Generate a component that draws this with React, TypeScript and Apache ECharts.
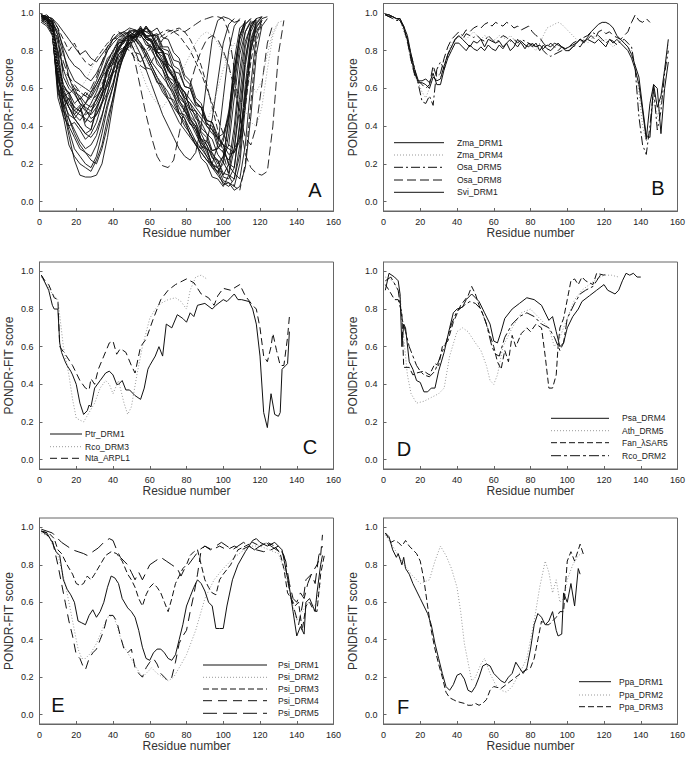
import React, { useEffect, useRef } from "react";
import * as echarts from "echarts";

const FONT = '"Liberation Sans", Arial, Helvetica, sans-serif';
const INK = "#111";
const GRAY = "#999";

const X_TICKS = [0, 20, 40, 60, 80, 100, 120, 140, 160];
const Y_TICKS = [0, 0.2, 0.4, 0.6, 0.8, 1.0];
const PANEL_LETTERS = ["A", "B", "C", "D", "E", "F"];
const X_TITLE = "Residue number";
const Y_TITLE = "PONDR-FIT score";

// ---------- Panel A (percent values, one every 3 residues from residue 1) ----------
const A01 = [98,97,95,70,55,58,48,51,42,47,55,60,72,76,84,85,89,87,91,86,85,77,74,66,64,55,52,44,40,33,28,26,20,24,30,55,78,90,95,96];
const A02 = [96,98,94,62,50,55,46,50,40,38,50,56,70,73,82,84,90,88,93,87,86,79,79,70,66,63,55,52,44,42,36,33,25,21,15,35,65,85,93,97,98];
const A03 = [99,96,92,80,60,58,52,55,49,44,46,53,62,68,78,80,86,85,90,92,88,88,81,80,72,70,61,60,52,50,41,40,31,28,20,18,40,72,90,96];
const A04 = [95,97,90,55,45,40,42,38,33,36,42,52,64,74,81,86,88,90,88,85,80,75,70,64,58,52,48,44,38,32,26,20,15,22,45,75,92,95];
const A05 = [97,95,96,88,66,60,57,52,50,48,52,58,61,70,73,82,84,89,88,93,89,87,79,78,69,68,61,60,51,50,43,42,35,30,19,15,12,30,62,88,96];
const A06 = [98,96,90,58,48,44,38,32,28,30,35,45,58,70,80,85,88,86,82,76,70,64,58,54,50,46,42,36,30,26,22,20,30,55,80,93,97];
const A07 = [96,98,95,72,62,57,60,54,58,55,60,66,70,78,80,87,86,91,89,93,88,89,82,82,75,74,65,62,53,50,40,38,29,26,22,28,50,76,92,97];
const A08 = [99,97,93,66,52,46,44,40,36,34,38,46,56,63,74,77,84,85,90,86,86,79,77,69,66,57,53,45,42,33,30,23,22,15,14,12,25,55,82,94,98];
const A09 = [97,98,94,84,70,62,58,56,52,50,54,60,68,76,82,86,88,87,84,80,74,70,66,62,56,50,44,38,32,28,24,20,18,24,42,70,88,95];
const A10 = [95,93,88,60,55,50,46,43,47,52,58,66,74,80,85,88,90,91,90,88,85,80,75,70,65,60,55,52,48,44,40,36,34,36,45,62,82,94,97];
const A11 = [98,99,96,76,58,50,44,40,36,38,48,57,70,75,84,85,91,90,92,86,85,77,74,65,62,53,50,41,38,29,28,19,18,11,10,8,20,50,80,93,96];
const A12 = [96,97,92,70,60,52,48,46,44,42,46,52,58,68,71,80,82,88,87,92,90,92,87,86,79,76,67,64,55,52,43,42,33,30,25,26,32,55,80,92,97,98];
const A13 = [99,98,97,92,80,66,58,52,48,46,50,56,64,69,78,81,88,87,91,87,88,81,80,73,70,61,58,49,48,39,36,27,28,34,48,70,88,96];
const A14 = [97,95,90,64,58,54,50,48,52,56,62,68,74,80,84,87,88,86,83,78,72,66,60,54,48,42,38,34,30,28,32,44,64,84,94,97];
const A15 = [98,96,90,70,50,35,22,14,13,13,14,20,34,52,68,80,86,89,91,90,88,84,78,72,66,60,54,48,42,36,30,24,18,14,20,40,70,90,96];
const A16 = [97,95,88,62,45,30,24,20,18,16,22,30,44,55,70,77,86,87,92,88,88,82,80,73,70,61,58,49,46,37,34,25,22,13,12,18,42,75,92,97];
const A17 = [99,97,92,68,52,40,34,28,26,22,20,28,40,55,68,78,84,88,90,88,84,78,72,66,60,54,48,42,36,30,24,18,14,10,8,12,30,62,86,95];
const A18 = [96,94,89,60,48,38,28,24,20,18,24,36,50,61,76,81,88,87,89,83,82,73,70,61,58,47,44,35,32,23,20,13,12,8,14,28,56,82,94,97];
const A19 = [98,96,93,78,56,44,36,30,26,24,30,40,52,61,74,79,87,87,92,90,90,83,80,71,68,57,52,43,40,31,28,19,16,9,10,6,8,18,45,78,93,97];
const A20 = [99,98,97,94,90,86,82,78,80,76,74,78,82,86,88,90,92,91,88,85,82,78,74,70,66,62,58,54,50,46,42,38,34,30,28,26,34,58,84,95,98];
const A21 = [98,97,96,92,86,80,84,78,74,72,76,80,84,86,87,88,89,86,82,80,84,88,90,91,90,88,84,80,74,68,60,52,44,36,30,28,34,50,74,90,96];
const A22 = [97,96,95,90,82,76,72,70,66,64,68,74,80,84,87,89,90,88,84,78,72,66,62,58,52,46,40,36,30,26,22,18,16,20,36,64,88,96];
const A23 = [99,98,95,88,78,70,64,62,60,58,62,68,76,79,86,85,86,79,78,71,70,63,62,55,54,47,46,41,40,33,32,27,28,32,46,68,86,94,97];
const A24 = [98,96,93,80,70,66,62,58,56,54,56,60,66,72,78,82,84,80,72,70,74,80,86,88,90,91,90,92,94,96,97,98,98,97,90,70,45,25,18,15,14,16,40,78,96];
const A25 = [97,95,90,75,66,62,58,60,64,70,76,80,84,86,88,87,84,78,70,62,56,52,50,54,60,66,72,78,84,88,90,88,84,78,70,62,54,48,42,40,50,70,88,95,96];
const A26 = [99,97,94,86,74,66,60,58,56,60,66,74,82,88,90,88,84,74,60,46,34,24,19,18,22,36,50,62,72,80,86,88,86,80,72,60,46,34,30,40,62,84,94];
const A27 = [96,94,90,74,62,56,50,48,46,48,54,62,70,76,80,82,80,76,74,78,82,86,88,90,91,92,90,86,80,72,62,50,38,26,14,8,6,20,52,84,95];
const A28 = [97,98,92,66,56,50,44,48,52,58,64,72,80,86,89,90,88,84,78,70,62,54,46,40,34,28,24,22,26,40,64,86,96,98,97,95,96];
const A29 = [96,94,88,70,60,56,52,50,48,50,56,64,72,80,86,88,86,82,78,74,70,66,62,58,54,50,46,42,40,38,42,50,60,70,78,84,80,72,62,58,64,78,90,95];

// ---------- Panel B (percent values, one every 2 residues from residue 1) ----------
const ZMA_DRM1 = [99,99,98,97,97, 92,86,76,68,63, 63,62,60,66,64, 65,72,78,82,86, 88,86,84,82,85, 84,86,82,86,85, 84,85,82,84,86, 84,82,85,83,82, 84,82,83,81,83, 82,84,83,82,81, 82,83,84,86,85, 86,85,84,86,84, 82,86,84,86,84, 82,80,76,70,62, 48,33,52,62,50, 56,70,86];
const ZMA_DRM4 = [99,99,98,97,96, 90,84,74,66,63, 58,55,60,70,68, 66,72,78,84,86, 87,88,86,88,90, 88,86,88,87,85, 86,88,87,86,88, 86,85,84,82,83, 82,80,84,88,92, 93,94,95,94,92, 90,88,86,85,86, 84,86,88,87,85, 86,84,82,84,86, 84,82,80,72,58, 40,32,38,55,45, 52,70,84];
const OSA_DRM5 = [99,98,97,96,96, 93,86,78,70,62, 53,52,56,51,70, 74,70,78,82,86, 88,86,89,88,87, 88,86,85,88,86, 84,86,88,87,85, 86,84,86,85,84, 83,82,83,80,78, 77,78,79,80,81, 82,84,85,86,87, 88,90,89,88,86, 84,86,85,83,85, 86,84,82,70,45, 30,25,40,60,38, 48,68,80];
const OSA_DRM8 = [99,99,98,97,96, 92,85,75,67,64, 62,60,62,72,66, 68,76,82,86,88, 90,88,91,90,92, 93,92,94,95,93, 95,94,93,95,94, 92,93,91,92,93, 90,88,87,84,82, 84,82,80,82,81, 80,82,83,82,85, 86,88,86,90,91, 89,90,88,87,86, 88,90,95,99,96, 95,97,95];
const SVI_DRM1 = [99,98,98,97,97, 93,88,78,70,64, 64,65,63,68,62, 62,70,76,80,84, 84,82,80,83,81, 80,82,80,83,81, 80,83,81,84,80, 82,86,84,81,84, 82,84,80,83,81, 80,82,84,82,80, 80,82,84,86,84, 87,90,92,94,95, 95,94,92,88,86, 84,82,78,72,66, 50,35,34,62,60, 36,60,74];

// ---------- Panel C ([residue, score]) ----------
const PTR_DRM1 = [[1,0.98],[3,0.94],[5,0.9],[7,0.82],[8,0.8],[10,0.8],[11,0.62],[12,0.57],[14,0.52],[15,0.5],[17,0.47],[18,0.45],[20,0.4],[22,0.3],[24,0.24],[26,0.26],[27,0.29],[28,0.28],[30,0.38],[33,0.42],[36,0.46],[38,0.47],[40,0.45],[42,0.4],[43,0.4],[45,0.42],[47,0.37],[49,0.37],[52,0.34],[55,0.32],[57,0.38],[59,0.48],[60,0.5],[63,0.55],[65,0.6],[67,0.55],[69,0.72],[72,0.7],[75,0.77],[78,0.75],[80,0.73],[82,0.78],[84,0.76],[86,0.82],[90,0.83],[94,0.8],[96,0.82],[100,0.85],[102,0.84],[104,0.86],[106,0.88],[108,0.85],[110,0.85],[114,0.84],[116,0.8],[118,0.72],[120,0.55],[122,0.25],[124,0.17],[126,0.35],[128,0.24],[130,0.23],[131,0.25],[132,0.48],[134,0.5],[135,0.51],[136,0.68]];
const RCO_DRM3 = [[1,0.97],[4,0.93],[7,0.88],[10,0.85],[13,0.6],[16,0.45],[18,0.32],[20,0.22],[24,0.2],[27,0.25],[30,0.3],[33,0.38],[36,0.42],[38,0.4],[40,0.35],[43,0.42],[46,0.3],[48,0.24],[50,0.28],[53,0.45],[56,0.6],[60,0.75],[63,0.8],[66,0.83],[70,0.85],[74,0.86],[77,0.84],[80,0.8],[82,0.9],[85,0.97],[88,0.98],[91,0.96]];
const NTA_ARPL1 = [[1,0.98],[3,0.95],[5,0.93],[8,0.86],[10,0.85],[11,0.6],[14,0.56],[18,0.5],[22,0.42],[25,0.38],[27,0.37],[28,0.43],[30,0.4],[32,0.48],[35,0.55],[38,0.62],[40,0.63],[42,0.56],[44,0.59],[47,0.57],[50,0.5],[52,0.46],[55,0.6],[58,0.64],[62,0.75],[66,0.85],[70,0.9],[74,0.93],[78,0.95],[80,0.96],[84,0.94],[88,0.88],[92,0.86],[95,0.82],[97,0.87],[100,0.91],[104,0.9],[109,0.93],[112,0.87],[116,0.82],[118,0.8],[120,0.7],[122,0.55],[124,0.52],[126,0.6],[127,0.67],[129,0.58],[131,0.5],[133,0.5],[135,0.65],[136,0.76]];

// ---------- Panel D ----------
const PSA_DRM4 = [[1,0.9],[3,0.99],[6,0.97],[8,0.95],[9,0.88],[10,0.6],[11,0.72],[12,0.7],[14,0.52],[16,0.48],[18,0.42],[20,0.41],[22,0.36],[24,0.36],[26,0.38],[28,0.38],[30,0.47],[33,0.57],[36,0.7],[38,0.78],[40,0.8],[43,0.81],[45,0.85],[48,0.88],[50,0.86],[52,0.84],[55,0.78],[58,0.72],[60,0.63],[62,0.62],[64,0.68],[66,0.75],[70,0.8],[74,0.83],[78,0.86],[82,0.85],[86,0.82],[88,0.78],[90,0.74],[92,0.76],[94,0.68],[96,0.6],[98,0.62],[100,0.7],[103,0.76],[106,0.8],[108,0.84],[112,0.87],[116,0.9],[120,0.93],[122,0.9],[126,0.88],[128,0.9],[130,0.95],[132,0.99],[134,0.98],[136,0.99],[138,0.97],[140,0.97]];
const ATH_DRM5 = [[1,0.97],[5,0.95],[9,0.88],[11,0.65],[13,0.45],[15,0.35],[18,0.3],[22,0.31],[26,0.33],[30,0.35],[33,0.38],[36,0.55],[40,0.68],[43,0.7],[46,0.68],[50,0.62],[53,0.58],[56,0.5],[58,0.42],[60,0.4],[62,0.45],[65,0.6],[70,0.7],[75,0.78],[80,0.8],[85,0.75],[90,0.7],[93,0.6],[96,0.65],[100,0.75],[104,0.85],[108,0.9],[112,0.93],[116,0.96],[120,0.98],[124,0.98],[128,0.97]];
const FAN_LSAR5 = [[1,0.93],[3,0.9],[6,0.85],[8,0.85],[10,0.78],[11,0.49],[14,0.49],[16,0.45],[18,0.46],[22,0.47],[25,0.45],[28,0.51],[30,0.5],[32,0.6],[35,0.63],[38,0.73],[42,0.82],[46,0.87],[48,0.92],[50,0.88],[52,0.82],[55,0.75],[58,0.66],[60,0.6],[62,0.52],[64,0.48],[66,0.58],[68,0.52],[70,0.66],[72,0.6],[75,0.67],[78,0.7],[80,0.68],[83,0.72],[86,0.7],[88,0.55],[90,0.38],[92,0.38],[94,0.45],[95,0.6],[96,0.7],[98,0.75],[100,0.85],[102,0.95],[104,0.96],[106,0.93],[108,0.97],[110,0.95],[114,0.93],[116,0.99],[120,0.98],[122,0.99]];
const RCO_DRM2 = [[1,0.95],[4,0.97],[8,0.9],[10,0.75],[12,0.68],[14,0.6],[16,0.55],[18,0.5],[20,0.47],[22,0.45],[25,0.44],[28,0.47],[31,0.55],[34,0.62],[37,0.72],[40,0.79],[44,0.82],[47,0.84],[50,0.83],[53,0.8],[56,0.72],[59,0.6],[61,0.56],[63,0.55],[66,0.65],[70,0.72],[74,0.76],[78,0.78],[82,0.76],[86,0.72],[90,0.7],[93,0.65],[96,0.58],[98,0.62],[100,0.75],[104,0.83],[107,0.88],[110,0.9],[114,0.92],[116,0.95],[118,0.98]];

// ---------- Panel E ----------
const PSI_DRM1 = [[1,0.98],[4,0.97],[7,0.92],[9,0.87],[11,0.85],[13,0.72],[15,0.67],[17,0.64],[19,0.6],[21,0.5],[23,0.49],[25,0.48],[27,0.53],[29,0.56],[31,0.52],[33,0.55],[35,0.6],[37,0.68],[39,0.74],[41,0.73],[43,0.7],[45,0.62],[48,0.57],[50,0.55],[52,0.52],[54,0.45],[56,0.36],[58,0.3],[60,0.29],[62,0.33],[64,0.35],[66,0.35],[68,0.33],[70,0.3],[72,0.29],[74,0.32],[76,0.4],[78,0.48],[80,0.58],[82,0.63],[84,0.68],[86,0.72],[88,0.7],[90,0.66],[92,0.6],[94,0.58],[96,0.46],[98,0.46],[100,0.46],[102,0.58],[105,0.72],[108,0.8],[112,0.87],[116,0.93],[118,0.94],[120,0.92],[124,0.9],[128,0.92],[132,0.88],[134,0.78],[136,0.68],[138,0.55],[140,0.42],[142,0.47],[144,0.43],[145,0.6],[147,0.62],[150,0.55],[151,0.65],[153,0.8],[154,0.85]];
const PSI_DRM2 = [[1,0.97],[5,0.95],[10,0.85],[14,0.7],[17,0.55],[19,0.45],[21,0.35],[23,0.3],[25,0.3],[28,0.33],[31,0.38],[34,0.45],[37,0.52],[40,0.53],[42,0.48],[45,0.38],[48,0.33],[51,0.28],[54,0.23],[56,0.2],[58,0.22],[61,0.25],[64,0.22],[67,0.2],[70,0.18],[73,0.2],[76,0.25],[80,0.32],[85,0.45],[90,0.62],[95,0.72],[100,0.78],[105,0.83],[110,0.87],[115,0.9],[120,0.9],[125,0.88],[130,0.86],[134,0.75],[137,0.62],[140,0.5],[143,0.55],[146,0.6],[150,0.58],[153,0.7]];
const PSI_DRM3 = [[1,0.98],[5,0.97],[8,0.94],[10,0.88],[12,0.86],[15,0.8],[18,0.75],[20,0.7],[22,0.69],[24,0.7],[26,0.74],[28,0.72],[30,0.75],[33,0.8],[36,0.85],[39,0.87],[42,0.86],[45,0.82],[48,0.75],[50,0.72],[52,0.68],[54,0.62],[56,0.58],[58,0.64],[60,0.68],[62,0.7],[64,0.68],[66,0.65],[68,0.6],[70,0.55],[72,0.62],[74,0.7],[76,0.74],[78,0.78],[80,0.8],[82,0.85],[84,0.87],[86,0.88],[88,0.8],[90,0.72],[92,0.68],[94,0.65],[96,0.64],[98,0.72],[100,0.75],[104,0.8],[108,0.88],[112,0.9],[116,0.92],[120,0.9],[124,0.92],[128,0.9],[131,0.86],[133,0.78],[135,0.65],[137,0.62],[139,0.58],[141,0.6],[143,0.45],[145,0.58],[147,0.6],[149,0.56],[151,0.55],[153,0.75],[155,0.85]];
const PSI_DRM4 = [[1,0.98],[4,0.96],[7,0.93],[10,0.8],[12,0.7],[14,0.6],[16,0.5],[18,0.42],[20,0.32],[22,0.3],[24,0.25],[25,0.24],[27,0.3],[29,0.33],[31,0.35],[33,0.4],[35,0.45],[37,0.53],[40,0.53],[42,0.5],[44,0.42],[46,0.35],[48,0.33],[50,0.35],[52,0.25],[54,0.22],[56,0.2],[58,0.25],[60,0.28],[62,0.3],[64,0.27],[66,0.22],[68,0.2],[70,0.18],[72,0.2],[74,0.28],[76,0.38],[78,0.42],[80,0.45],[82,0.55],[84,0.64],[86,0.75],[88,0.88],[90,0.9],[94,0.88],[98,0.9],[102,0.88],[106,0.9],[110,0.88],[114,0.9],[118,0.88],[122,0.87],[126,0.88],[130,0.9],[133,0.85],[135,0.72],[137,0.62],[139,0.55],[141,0.48],[143,0.58],[145,0.72],[148,0.75],[151,0.8],[153,0.85],[154,0.96]];
const PSI_DRM5 = [[1,0.99],[4,0.98],[7,0.97],[9,0.95],[12,0.92],[15,0.9],[18,0.88],[21,0.87],[24,0.86],[26,0.85],[29,0.87],[32,0.89],[35,0.92],[38,0.94],[40,0.93],[42,0.88],[44,0.84],[46,0.82],[48,0.8],[50,0.76],[52,0.72],[54,0.76],[56,0.72],[58,0.76],[60,0.8],[63,0.82],[66,0.84],[69,0.82],[72,0.8],[75,0.78],[77,0.74],[79,0.78],[81,0.8],[84,0.84],[87,0.88],[90,0.9],[93,0.88],[96,0.9],[99,0.92],[102,0.9],[105,0.88],[108,0.9],[111,0.92],[114,0.9],[117,0.88],[120,0.9],[123,0.92],[126,0.9],[129,0.88],[132,0.87],[134,0.82],[136,0.7],[138,0.62],[140,0.6],[142,0.65],[144,0.62],[146,0.7],[148,0.75],[150,0.7],[152,0.85],[154,0.9]];

// ---------- Panel F ----------
const PPA_DRM1 = [[1,0.97],[3,0.95],[5,0.88],[7,0.84],[8,0.86],[10,0.8],[11,0.84],[12,0.78],[14,0.75],[16,0.7],[18,0.66],[20,0.62],[22,0.58],[24,0.54],[26,0.48],[28,0.38],[30,0.3],[32,0.22],[34,0.15],[36,0.13],[38,0.16],[40,0.21],[42,0.22],[44,0.19],[46,0.13],[48,0.12],[50,0.15],[52,0.2],[54,0.26],[56,0.27],[58,0.26],[60,0.22],[62,0.2],[64,0.18],[66,0.17],[68,0.2],[70,0.22],[72,0.28],[74,0.25],[76,0.22],[78,0.25],[80,0.35],[82,0.48],[84,0.54],[86,0.52],[88,0.48],[90,0.5],[92,0.55],[94,0.45],[95,0.42],[97,0.43],[98,0.65],[100,0.6],[102,0.7],[104,0.58],[106,0.78],[107,0.75]];
const PPA_DRM2 = [[1,0.96],[5,0.9],[10,0.82],[15,0.75],[20,0.7],[25,0.72],[28,0.82],[31,0.9],[34,0.85],[37,0.78],[40,0.68],[42,0.55],[44,0.38],[46,0.28],[48,0.18],[50,0.2],[53,0.27],[55,0.3],[58,0.22],[61,0.16],[64,0.13],[67,0.12],[70,0.15],[74,0.22],[78,0.3],[82,0.5],[85,0.68],[88,0.82],[90,0.76],[92,0.65],[94,0.72],[96,0.6],[98,0.62],[100,0.72],[103,0.8],[106,0.85],[108,0.86]];
const PPA_DRM3 = [[1,0.97],[4,0.92],[6,0.93],[8,0.92],[10,0.9],[12,0.93],[14,0.9],[16,0.88],[18,0.86],[20,0.82],[22,0.72],[24,0.58],[26,0.45],[28,0.35],[30,0.27],[32,0.2],[34,0.12],[36,0.09],[38,0.08],[40,0.07],[44,0.06],[46,0.05],[48,0.05],[50,0.06],[52,0.05],[54,0.06],[56,0.08],[58,0.13],[60,0.15],[64,0.14],[68,0.17],[72,0.2],[76,0.23],[80,0.25],[82,0.3],[84,0.4],[86,0.5],[88,0.48],[90,0.48],[92,0.5],[94,0.52],[96,0.55],[98,0.55],[100,0.82],[102,0.87],[104,0.82],[106,0.88],[107,0.91],[109,0.85]];

// ---------- helpers ----------
const stepped = (vals: number[], step: number) => vals.map((v, i) => [1 + i * step, v / 100]);

type Dash = "solid" | number[];
const SOLID: Dash = "solid";
const DOT: Dash = [1, 2];

function mk(panel: number, name: string, data: number[][], dash: Dash, color = INK, width = 1) {
  return {
    type: "line",
    name,
    xAxisIndex: panel,
    yAxisIndex: panel,
    data,
    symbol: "none",
    silent: true,
    lineStyle: { color, width, type: dash },
    z: 2,
  };
}

const GRIDS = [
  { left: 39.5, top: 3.5, width: 294, height: 207.5 },
  { left: 383.5, top: 3.5, width: 294, height: 207.5 },
  { left: 39.5, top: 262, width: 294, height: 207 },
  { left: 383.5, top: 262, width: 294, height: 207 },
  { left: 39.5, top: 518, width: 294, height: 206 },
  { left: 383.5, top: 518, width: 294, height: 206 },
];

const LETTER_POS = [
  [315, 190],
  [658, 188],
  [310, 447],
  [404, 449],
  [58, 705],
  [403, 707],
];

function legendBlock(x1: number, x2: number, tx: number, ys: number[], items: { label: string; dash: Dash; color?: string }[]) {
  const out: any[] = [];
  items.forEach((it, i) => {
    out.push({
      type: "line",
      shape: { x1, y1: ys[i], x2, y2: ys[i] },
      style: {
        stroke: it.color || INK,
        lineWidth: 1,
        lineDash: it.dash === "solid" ? null : it.dash,
      },
      silent: true,
    });
    out.push({
      type: "text",
      x: tx,
      y: ys[i],
      style: {
        text: it.label,
        font: `8.5px ${FONT}`,
        fill: "#222",
        textAlign: "left",
        textVerticalAlign: "middle",
      },
      silent: true,
    });
  });
  return out;
}

export default function App() {
  const ref = useRef<HTMLDivElement>(null);

  useEffect(() => {
    if (!ref.current) return;
    const chart = echarts.init(ref.current, undefined, { renderer: "svg" });

    const axisLineStyle = { color: "#666", width: 1 };
    const xAxis = GRIDS.map((_, i) => ({
      type: "value",
      gridIndex: i,
      min: 0,
      max: 160,
      interval: 20,
      axisLine: { show: true, onZero: false, lineStyle: axisLineStyle },
      axisTick: { show: true, inside: true, length: 3, lineStyle: axisLineStyle, customValues: X_TICKS },
      axisLabel: { margin: 6, fontSize: 9, color: "#222", fontFamily: FONT, customValues: X_TICKS },
      splitLine: { show: false },
      name: X_TITLE,
      nameLocation: "middle",
      nameGap: 15,
      nameTextStyle: { fontSize: 12, color: "#333", fontFamily: FONT },
    }));
    const yAxis = GRIDS.map((_, i) => ({
      type: "value",
      gridIndex: i,
      min: -0.05,
      max: 1.05,
      axisLine: { show: true, onZero: false, lineStyle: axisLineStyle },
      axisTick: { show: true, inside: true, length: 3, lineStyle: axisLineStyle, customValues: Y_TICKS },
      axisLabel: {
        margin: 6,
        fontSize: 9,
        color: "#222",
        fontFamily: FONT,
        customValues: Y_TICKS,
        formatter: (v: number) => v.toFixed(1),
      },
      splitLine: { show: false },
      name: Y_TITLE,
      nameLocation: "middle",
      nameGap: 25,
      nameTextStyle: { fontSize: 12, color: "#333", fontFamily: FONT },
    }));

    const D1: Dash = [6, 3];
    const D2: Dash = [9, 4];
    const DD: Dash = [9, 3, 2, 3];

    const aSolid = [A01, A02, A03, A04, A05, A06, A07, A08, A09, A10, A11, A12, A13, A14, A15, A16, A17, A18, A19, A20, A22, A23, A28];
    const series: any[] = [];
    aSolid.forEach((arr, k) => series.push(mk(0, "A" + k, stepped(arr, 3), SOLID, INK, 0.9)));
    series.push(mk(0, "A21", stepped(A21, 3), D1, INK, 0.9));
    series.push(mk(0, "A24", stepped(A24, 3), D2, INK, 0.9));
    series.push(mk(0, "A25", stepped(A25, 3), DOT, GRAY, 0.9));
    series.push(mk(0, "A26", stepped(A26, 3), D2, INK, 0.9));
    series.push(mk(0, "A27", stepped(A27, 3), D1, INK, 0.9));
    series.push(mk(0, "A29", stepped(A29, 3), DOT, GRAY, 0.9));

    series.push(mk(1, "Zma_DRM4", stepped(ZMA_DRM4, 2), DOT, GRAY));
    series.push(mk(1, "Osa_DRM5", stepped(OSA_DRM5, 2), DD));
    series.push(mk(1, "Osa_DRM8", stepped(OSA_DRM8, 2), D2));
    series.push(mk(1, "Zma_DRM1", stepped(ZMA_DRM1, 2), SOLID));
    series.push(mk(1, "Svi_DRM1", stepped(SVI_DRM1, 2), SOLID));

    series.push(mk(2, "Rco_DRM3", RCO_DRM3, DOT, GRAY));
    series.push(mk(2, "Nta_ARPL1", NTA_ARPL1, [7, 4]));
    series.push(mk(2, "Ptr_DRM1", PTR_DRM1, SOLID));

    series.push(mk(3, "Ath_DRM5", ATH_DRM5, DOT, GRAY));
    series.push(mk(3, "Fan_λSAR5", FAN_LSAR5, D1));
    series.push(mk(3, "Rco_DRM2", RCO_DRM2, [10, 3, 3, 3]));
    series.push(mk(3, "Psa_DRM4", PSA_DRM4, SOLID));

    series.push(mk(4, "Psi_DRM2", PSI_DRM2, DOT, GRAY));
    series.push(mk(4, "Psi_DRM3", PSI_DRM3, D1));
    series.push(mk(4, "Psi_DRM4", PSI_DRM4, [9, 6]));
    series.push(mk(4, "Psi_DRM5", PSI_DRM5, [14, 6]));
    series.push(mk(4, "Psi_DRM1", PSI_DRM1, SOLID));

    series.push(mk(5, "Ppa_DRM2", PPA_DRM2, DOT, GRAY));
    series.push(mk(5, "Ppa_DRM3", PPA_DRM3, D1));
    series.push(mk(5, "Ppa_DRM1", PPA_DRM1, SOLID));

    const graphics: any[] = [];
    PANEL_LETTERS.forEach((L, i) => {
      graphics.push({
        type: "text",
        x: LETTER_POS[i][0],
        y: LETTER_POS[i][1],
        style: {
          text: L,
          font: `20px ${FONT}`,
          fill: "#111",
          textAlign: "center",
          textVerticalAlign: "middle",
        },
        silent: true,
      });
    });
    graphics.push(
      ...legendBlock(394, 444, 457, [142.7, 155, 167.3, 180, 192.3], [
        { label: "Zma_DRM1", dash: SOLID },
        { label: "Zma_DRM4", dash: DOT, color: GRAY },
        { label: "Osa_DRM5", dash: DD },
        { label: "Osa_DRM8", dash: D2 },
        { label: "Svi_DRM1", dash: SOLID },
      ])
    );
    graphics.push(
      ...legendBlock(50, 82, 85, [434, 446.7, 458.3], [
        { label: "Ptr_DRM1", dash: SOLID },
        { label: "Rco_DRM3", dash: DOT, color: GRAY },
        { label: "Nta_ARPL1", dash: [7, 4] },
      ])
    );
    graphics.push(
      ...legendBlock(551, 609, 622, [418.3, 430.7, 442.7, 455.7], [
        { label: "Psa_DRM4", dash: SOLID },
        { label: "Ath_DRM5", dash: DOT, color: GRAY },
        { label: "Fan_λSAR5", dash: D1 },
        { label: "Rco_DRM2", dash: [10, 3, 3, 3] },
      ])
    );
    graphics.push(
      ...legendBlock(203, 267, 278, [665, 677.3, 689, 700.7, 713.3], [
        { label: "Psi_DRM1", dash: SOLID },
        { label: "Psi_DRM2", dash: DOT, color: GRAY },
        { label: "Psi_DRM3", dash: D1 },
        { label: "Psi_DRM4", dash: [9, 6] },
        { label: "Psi_DRM5", dash: [14, 6] },
      ])
    );
    graphics.push(
      ...legendBlock(579, 611, 619, [681.7, 695, 706.7], [
        { label: "Ppa_DRM1", dash: SOLID },
        { label: "Ppa_DRM2", dash: DOT, color: GRAY },
        { label: "Ppa_DRM3", dash: D1 },
      ])
    );

    chart.setOption({
      animation: false,
      backgroundColor: "#fff",
      grid: GRIDS.map((g) => ({ ...g, show: true, borderColor: "#666", borderWidth: 1, containLabel: false })),
      xAxis,
      yAxis,
      series,
      graphic: graphics,
    });

    return () => chart.dispose();
  }, []);

  return <div ref={ref} style={{ position: "absolute", left: 0, top: 0, width: 689, height: 760 }} />;
}
